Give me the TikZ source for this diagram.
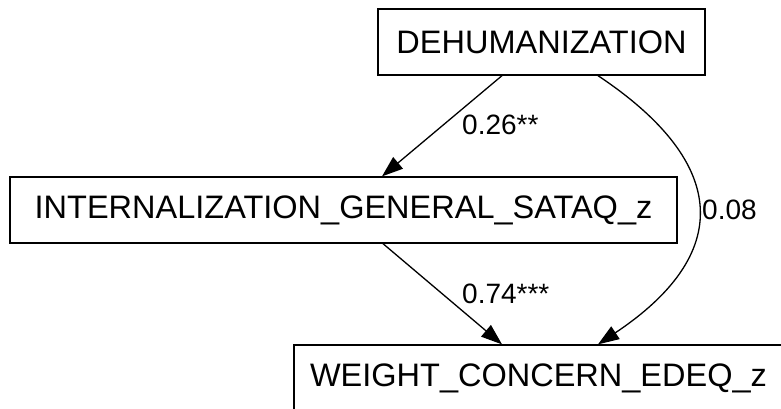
\documentclass[tikz,border=0pt]{standalone}
\usepackage{fontspec}
\setmainfont{Liberation Sans}
\usetikzlibrary{arrows.meta}

\tikzset{
    box/.style={draw, line width=1.3pt, inner sep=0pt, minimum height=66pt,
        font=\fontsize{32.5}{39}\selectfont},
    lbl/.style={inner sep=0pt, anchor=base west, font=\fontsize{28}{33}\selectfont},
    path/.style={line width=1.3pt, -{Triangle[length=21pt,width=15pt]}}
}

\begin{document}
\begin{tikzpicture}[x=1pt, y=-1pt]
    \useasboundingbox (0,0) rectangle (781,408);
    \clip (0,0) rectangle (781,408);

    \node[box, minimum width=327pt] (deh) at (541.5,42) {DEHUMANIZATION};
    \node[box, minimum width=667pt] (int) at (343.5,210) {INTERNALIZATION\_GENERAL\_SATAQ\_z};
    \node[box, minimum width=489pt] (wgt) at (538.5,378) {WEIGHT\_CONCERN\_EDEQ\_z};

    \draw[path] ([xshift=-39.5pt]deh.south) to ([xshift=38.5pt]int.north);
    \draw[path] ([xshift=39.5pt]int.south) to ([xshift=-36.5pt]wgt.north);
    \draw[path] ([xshift=56.5pt]deh.south) .. controls +(133.5,89) and +(133.5,-89) .. ([xshift=59.5pt]wgt.north);

    \node[lbl] (a1) at (462,134) {0.26**};
    \node[lbl] (a2) at (702,219) {0.08};
    \node[lbl] (a3) at (462,303) {0.74***};
\end{tikzpicture}
\end{document}
